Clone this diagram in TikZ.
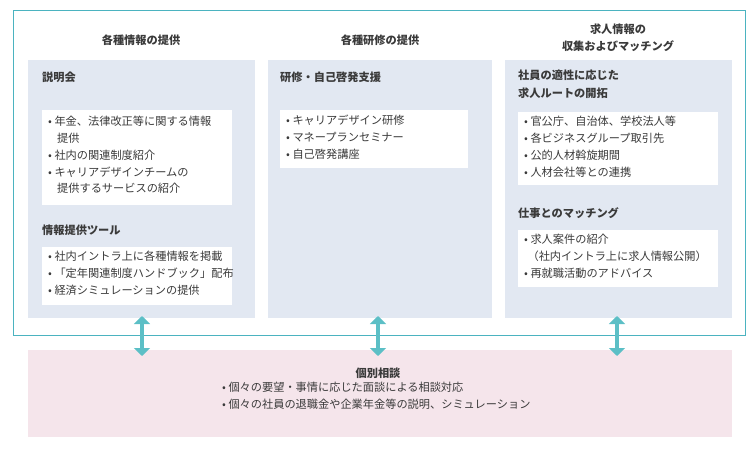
\documentclass[tikz,border=0pt]{standalone}
\usepackage{fontspec}
\setmainfont{Noto Sans CJK JP}
\usetikzlibrary{arrows.meta}
\definecolor{tealline}{HTML}{4BB3C0}
\definecolor{colblue}{HTML}{E2E8F2}
\definecolor{pinkbg}{HTML}{F5E5EB}
\definecolor{arrowteal}{HTML}{5CBFC6}
\definecolor{textgray}{HTML}{3A3A3A}
\begin{document}
\begin{tikzpicture}[%
            x=1pt, y=-1pt,
            every node/.style={text=textgray, font=\fontsize{11.2}{16.8}\selectfont},
            colbox/.style={fill=colblue, draw=none},
            whitebox/.style={fill=white, draw=none},
            header/.style={font=\fontsize{11.2}{17}\selectfont\bfseries, align=center},
            subhead/.style={anchor=north west, inner sep=0pt, font=\fontsize{11.2}{18}\selectfont\bfseries, align=left},
            itemlist/.style={anchor=north west, inner sep=0pt, align=left},
            twoway/.style={draw=arrowteal, line width=4.5pt, {Triangle[length=8pt,width=16pt]}-{Triangle[length=8pt,width=16pt]}}
        ]
        \useasboundingbox (0,0) rectangle (752,458);
        % upper frame and columns
        \draw [tealline, line width=0.8pt] (13,10) rectangle (745,335);
        \fill [colblue] (28,60) rectangle (255,318);
        \fill [colblue] (268,60) rectangle (492,318);
        \fill [colblue] (505,60) rectangle (732,318);
        \node (h1) [header] at (141,40) {各種情報の提供};
        \node (h2) [header] at (380,40) {各種研修の提供};
        \node (h3) [header] at (618,38) {求人情報の\\収集およびマッチング};
        % column 1
        \node (s1) [subhead] at (42,72) {説明会};
        \fill [whitebox] (42,110) rectangle (232,205);
        \node (l1) [itemlist] at (48,116) {• 年金、法律改正等に関する情報\\\hspace{0.8em}提供\\• 社内の関連制度紹介\\• キャリアデザインチームの\\\hspace{0.8em}提供するサービスの紹介};
        \node (s2) [subhead] at (42,225) {情報提供ツール};
        \fill [whitebox] (42,247) rectangle (232,305);
        \node (l2) [itemlist] at (48,251) {• 社内イントラ上に各種情報を掲載\\• 「定年関連制度ハンドブック」配布\\• 経済シミュレーションの提供};
        % column 2
        \node (s3) [subhead] at (280,72) {研修・自己啓発支援};
        \fill [whitebox] (280,110) rectangle (468,168);
        \node (l3) [itemlist] at (286,115) {• キャリアデザイン研修\\• マネープランセミナー\\• 自己啓発講座};
        % column 3
        \node (s4) [subhead] at (518,70) {社員の適性に応じた\\求人ルートの開拓};
        \fill [whitebox] (518,112) rectangle (718,185);
        \node (l4) [itemlist] at (524,116) {• 官公庁、自治体、学校法人等\\• 各ビジネスグループ取引先\\• 公的人材斡旋期間\\• 人材会社等との連携};
        \node (s5) [subhead] at (518,207) {仕事とのマッチング};
        \fill [whitebox] (518,230) rectangle (718,287);
        \node (l5) [itemlist] at (524,234) {• 求人案件の紹介\\\hspace{0.3em}（社内イントラ上に求人情報公開）\\• 再就職活動のアドバイス};
        % lower box
        \fill [pinkbg] (28,350) rectangle (732,437);
        \node (h4) [header] at (378,373) {個別相談};
        \node (l6) [itemlist] at (222,382) {• 個々の要望・事情に応じた面談による相談対応\\• 個々の社員の退職金や企業年金等の説明、シミュレーション};
        % arrows
        \coordinate (a1) at (142,316); \coordinate (b1) at (142,356);
        \coordinate (a2) at (378,316); \coordinate (b2) at (378,356);
        \coordinate (a3) at (617,316); \coordinate (b3) at (617,356);
        \foreach \i in {1,2,3}
            \draw [twoway] (a\i) -- (b\i);
    \end{tikzpicture}
\end{document}
